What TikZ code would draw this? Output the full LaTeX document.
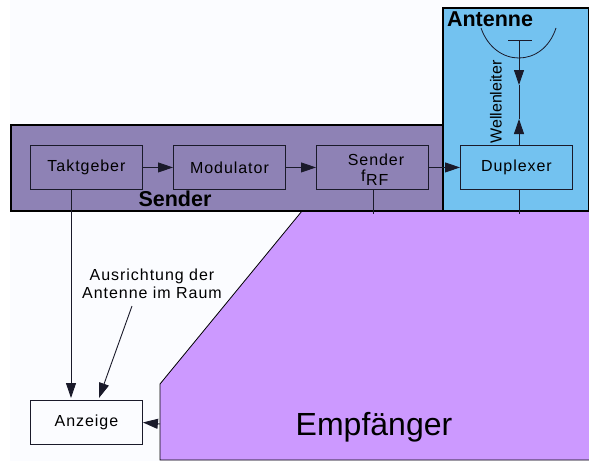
\documentclass[tikz,border=0pt]{standalone}
\usepackage{fontspec}
\setmainfont{Liberation Sans}
\newfontfamily\widesans[LetterSpace=6]{Liberation Sans}
\usetikzlibrary{arrows.meta}
\definecolor{senderc}{HTML}{8E82B5}
\definecolor{antc}{HTML}{73C2F0}
\definecolor{empc}{HTML}{CC99FF}
\definecolor{bgc}{HTML}{FBFCFF}
\definecolor{linec}{HTML}{1A1A2A}
\tikzset{
  block/.style={draw=linec,line width=0.9pt,minimum width=112pt,minimum height=44pt,inner sep=0pt,font=\widesans\fontsize{16}{16}\selectfont,anchor=north west},
  group/.style={draw=black,line width=2.2pt},
  conn/.style={draw=linec,line width=0.9pt},
  arr/.style={conn,-{Triangle[length=15pt,width=10pt]}},
  lab/.style={font=\widesans\fontsize{16}{17.5}\selectfont,align=center,inner sep=0pt}
}
\begin{document}
\begin{tikzpicture}[x=1pt,y=-1pt]
\useasboundingbox (0,0) rectangle (589,461);
\fill[white] (0,0) rectangle (589,461);
\fill[bgc] (10,0) rectangle (589,461);
\fill[empc] (302,211) -- (589,211) -- (589,460) -- (160,460) -- (160,384) -- cycle;
\draw[line width=0.8pt,black] (589,460) -- (160,460) -- (160,384) -- (302,211);
\path[fill=senderc,group] (11,125) rectangle (443,211);
\path[fill=antc,group] (443,8) rectangle (589,211);
\node[block,anchor=north west] (takt) at (30,145) {Taktgeber};
\node[block] (mod) at (173,145) {Modulator};
\node[block] (send) at (316,145) {};
\node[font=\widesans\fontsize{16}{16}\selectfont,inner sep=0pt] (sendt) at (376,160) {Sender};
\node[font=\widesans\fontsize{16}{16}\selectfont,inner sep=0pt,anchor=base west] (sendf) at (361,181) {f};
\node[font=\widesans\fontsize{16}{16}\selectfont,inner sep=0pt,anchor=base west] (sendrf) at (sendf.base east) [yshift=-4pt] {RF};
\node[block] (dup) at (460,145) {Duplexer};
\node[block,fill=bgc] (anz) at (30,400) {Anzeige};
\node[font=\bfseries\fontsize{21.5}{22}\selectfont,inner sep=0pt] (slab) at (175,199) {Sender};
\node[font=\bfseries\fontsize{21.5}{22}\selectfont,inner sep=0pt] (alab) at (490,19) {Antenne};
\node[font=\fontsize{32}{34}\selectfont,inner sep=0pt] (elab) at (374,427) {Empfänger};
\node[rotate=90,font=\fontsize{16}{17}\selectfont,inner sep=0pt] (wl) at (496,102) {Wellenleiter};
\node[lab] (aus) at (152,284) {Ausrichtung der\\Antenne im Raum};
\draw[arr] (takt.east) -- (mod.west);
\draw[arr] (mod.east) -- (send.west);
\draw[arr] (send.east) -- (dup.west);
\coordinate (tk) at (71,189);
\coordinate (ta) at (71,398);
\draw[arr] (tk) -- (ta);
\coordinate (a0) at (132,306);
\coordinate (a1) at (99,398);
\draw[arr] (a0) -- (a1);
\coordinate (e0) at (160,424);
\draw[arr] (e0) -- (anz.east);
\coordinate (s0) at (373,189);
\coordinate (s1) at (373,214);
\draw[conn] (s0) -- (s1);
\coordinate (d0) at (519,189);
\coordinate (d1) at (519,214);
\draw[conn] (d0) -- (d1);
\coordinate (bt) at (519,40);
\coordinate (bl) at (508,40);
\coordinate (br) at (532,40);
\draw[conn] (bl) -- (br);
\coordinate (down) at (519,85);
\coordinate (up) at (519,119);
\draw[arr] (bt) -- (down);
\draw[conn] (down) -- (up);
\draw[arr] (dup.north -| d0) -- (up);
\draw[line width=0.8pt,linec] (481,28) .. controls (495,68) and (543,68) .. (556,28);
\end{tikzpicture}
\end{document}
